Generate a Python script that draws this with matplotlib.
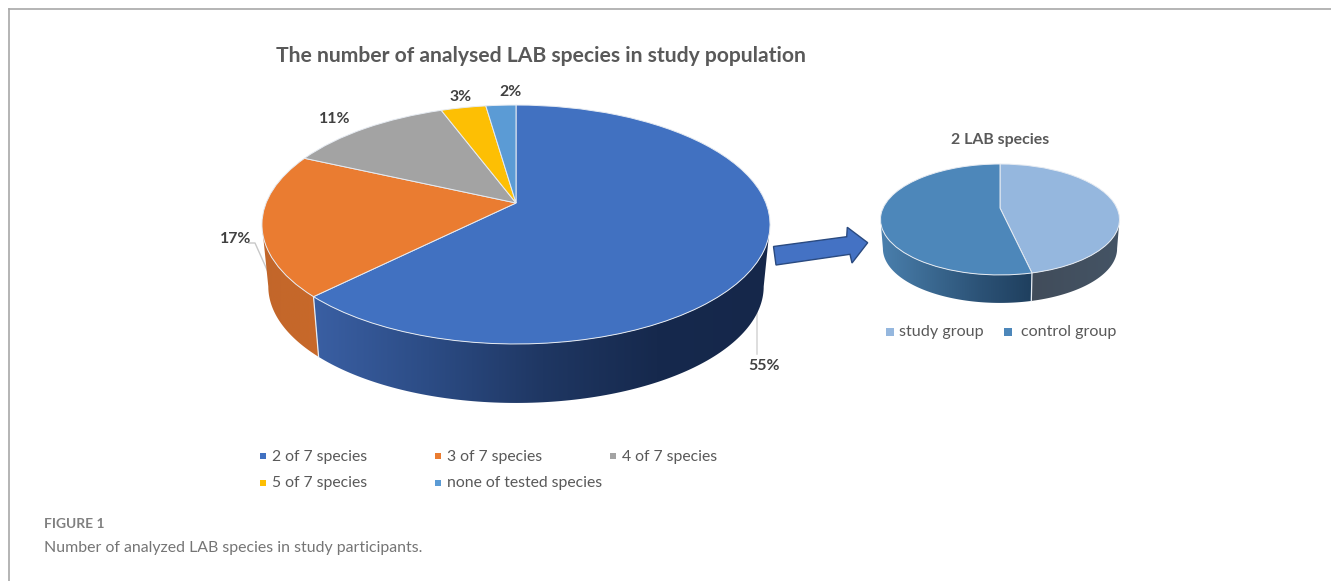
import numpy as np
import matplotlib
matplotlib.use("Agg")
import matplotlib.pyplot as plt
from matplotlib.colors import LinearSegmentedColormap
from matplotlib.patches import Polygon
from matplotlib.transforms import Transform

# Share of participants by number of LAB species detected
species_labels = ["2 of 7 species", "3 of 7 species", "4 of 7 species",
                  "5 of 7 species", "none of tested species"]
species_pct = [55, 17, 11, 3, 2]
species_pct_text = ["55%", "17%", "11%", "3%", "2%"]
species_colors = ["#4171c1", "#ea7c31", "#a3a3a3", "#fdbf04", "#5b9bd5"]

# Breakdown of the "2 of 7 species" slice
group_labels = ["study group", "control group"]
group_share = [46.5, 53.5]
group_colors = ["#95b7de", "#4d87ba"]

TITLE = "The number of analysed LAB species in study population"
SUBTITLE = "2 LAB species"
CAPTION_HEAD = "FIGURE 1"
CAPTION = "Number of analyzed LAB species in study participants."

TEXT_GREY = "#595959"
LABEL_GREY = "#404040"
SANS = "Lato"


class TiltedDisc(Transform):
    """Projects the unit disc onto a receding plane, in pixel coordinates."""
    input_dims = 2
    output_dims = 2

    def __init__(self, cx, cy, a, b, k, scale=1.0, drop=0.0):
        super().__init__()
        self.cx, self.cy, self.a, self.b, self.k = cx, cy, a, b, k
        self.scale, self.drop = scale, drop

    def transform_non_affine(self, values):
        values = np.asarray(values, dtype=float)
        w = 1.0 + self.k * values[:, 1]
        x = self.cx + self.scale * self.a * values[:, 0] / w
        y = self.cy - self.scale * self.b * values[:, 1] / w + self.drop
        return np.column_stack([x, y])


fig = plt.figure(figsize=(13.31, 5.81), dpi=100)
ax = fig.add_axes([0, 0, 1, 1])


def draw_tilted_pie(values, colors, top, bottom, wall_maps, edge="#e6ebf2"):
    wedges, _ = ax.pie(values, colors=colors, startangle=90, counterclock=False,
                       radius=1, center=(0, 0),
                       wedgeprops=dict(edgecolor=edge, linewidth=0.7))
    for w in wedges:
        w.set_transform(top + ax.transData)
        w.set_zorder(3)

    fractions = np.cumsum([0] + list(values)) / sum(values)
    angles = 90 - 360 * fractions
    front_hi = -np.degrees(np.arcsin(top.k))
    front_lo = -180 - front_hi

    for i, cmap_spec in enumerate(wall_maps):
        if cmap_spec is None:
            continue
        hi = min(angles[i], front_hi)
        lo = max(angles[i + 1], front_lo)
        t = np.radians(np.linspace(hi, lo, 120))
        disc = np.column_stack([np.cos(t), np.sin(t)])
        upper = top.transform(disc)
        lower = bottom.transform(disc)
        outline = np.vstack([upper, lower[::-1]])
        x0, x1 = outline[:, 0].min(), outline[:, 0].max()
        y0, y1 = outline[:, 1].min(), outline[:, 1].max()
        cmap = LinearSegmentedColormap.from_list("wall", cmap_spec)
        ramp = np.linspace(0, 1, 256)[None, :]
        im = ax.imshow(ramp, cmap=cmap, extent=(x0, x1, y1, y0), aspect="auto",
                       interpolation="bilinear", zorder=2)
        clip = Polygon(outline, closed=True, transform=ax.transData,
                       facecolor="none", edgecolor="none")
        ax.add_patch(clip)
        im.set_clip_path(clip)
        if lo == angles[i + 1]:
            ax.plot([upper[-1, 0], lower[-1, 0]], [upper[-1, 1], lower[-1, 1]],
                    color=edge, lw=0.9, zorder=2.5)


# Main pie
main_top = TiltedDisc(516, 203, 249.9, 115.6, 0.18)
main_bottom = TiltedDisc(516, 203, 249.9, 115.6, 0.18, scale=0.975, drop=62.5)
ax.plot([757, 757], [290, 354], color="#d4d4d4", lw=1.1, zorder=1)
ax.plot([249, 255, 268], [243, 243, 272], color="#c8c8c8", lw=1.0, zorder=1)
draw_tilted_pie(species_pct, species_colors, main_top, main_bottom,
                [["#3a5fa3", "#2c4c85", "#1f3763", "#16294d", "#15274a"],
                 ["#c2662a", "#c8692a"], None, None, None])

# Detail pie
side_top = TiltedDisc(1000, 208, 116.9, 53.1, 0.207)
side_bottom = TiltedDisc(1000, 208, 116.9, 53.1, 0.207, scale=0.98, drop=29.3)
draw_tilted_pie(group_share, group_colors, side_top, side_bottom,
                [["#414c5a", "#445465"],
                 ["#4a7fad", "#3a6890", "#2b5175", "#1f3f5e"]])

# Arrow joining the main slice to its breakdown
ax.add_patch(Polygon([(773.5, 246.5), (846.7, 236.7), (847.3, 227.3), (867.7, 242.7),
                      (852, 263), (850, 254.3), (776, 265)], closed=True,
                     facecolor="#4472c4", edgecolor="#2a4a80", lw=1.0, zorder=4))

# Slice labels
label_xy = [(764, 366), (236, 239), (335, 119), (461, 97), (511, 92)]
for txt, (x, y) in zip(species_pct_text, label_xy):
    ax.text(x, y, txt, ha="center", va="center", fontsize=11.4, fontweight="bold",
            color=LABEL_GREY, family=SANS)

# Headings
ax.text(541, 56, TITLE, ha="center", va="center", fontsize=15.2, fontweight="bold",
        color=TEXT_GREY, family=SANS)
ax.text(1000, 140, SUBTITLE, ha="center", va="center", fontsize=11.4,
        fontweight="bold", color=TEXT_GREY, family=SANS)

# Legends
legend_xy = [(263, 456), (438, 456), (613, 456), (263, 483), (438, 483)]
for name, col, (x, y) in zip(species_labels, species_colors, legend_xy):
    ax.scatter([x], [y], s=22, marker="s", color=col, linewidths=0, zorder=5)
    ax.text(x + 9, y + 0.5, name, ha="left", va="center", fontsize=11.3,
            color=TEXT_GREY, family=SANS)

group_legend_xy = [(890, 331.5), (1008, 331.5)]
group_text_x = [899, 1021]
for name, col, (x, y), tx in zip(group_labels, group_colors, group_legend_xy, group_text_x):
    ax.scatter([x], [y], s=26, marker="s", color=col, linewidths=0, zorder=5)
    ax.text(tx, y + 0.5, name, ha="left", va="center", fontsize=11.6,
            color=TEXT_GREY, family=SANS)

# Frame and caption
ax.plot([9, 1331], [9, 9], color="#a8a8a8", lw=1.2, zorder=0)
ax.plot([9, 9], [9, 581], color="#a8a8a8", lw=1.2, zorder=0)
ax.text(44, 524, CAPTION_HEAD, ha="left", va="center", fontsize=9.9, fontweight="bold",
        color="#808080", family=SANS)
ax.text(44, 548, CAPTION, ha="left", va="center", fontsize=11.4,
        color="#757575", family=SANS)

ax.set_aspect("auto")
ax.set_xlim(0, 1331)
ax.set_ylim(581, 0)
ax.axis("off")

fig.savefig("out.png", dpi=100, facecolor="white")
